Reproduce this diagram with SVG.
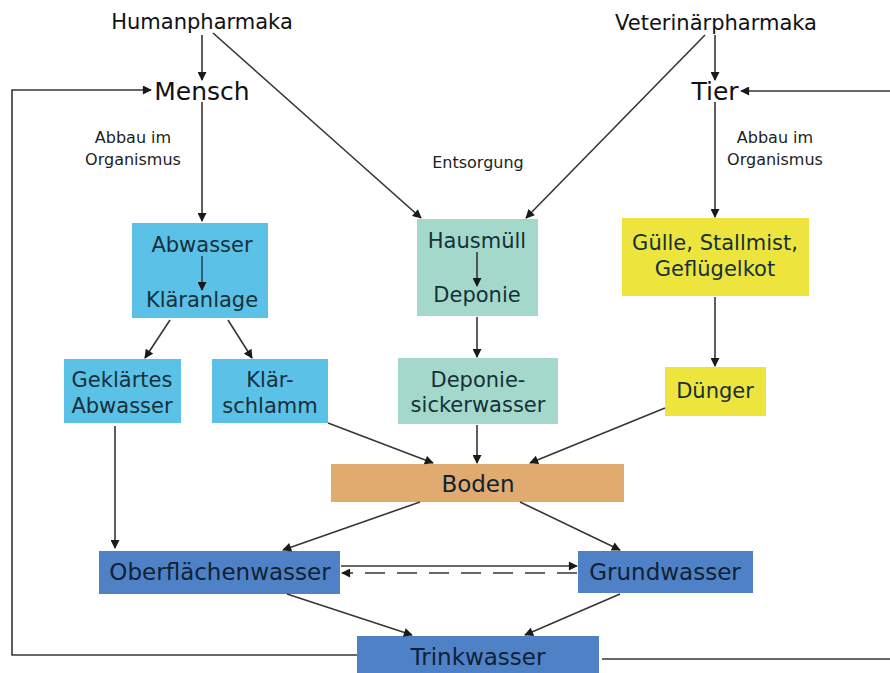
<svg xmlns="http://www.w3.org/2000/svg" width="890" height="673" viewBox="0 0 890 673">
<style>
text{font-family:"DejaVu Sans","Liberation Sans",sans-serif;text-anchor:middle;fill:#111}
.t{font-size:21px}
.big{font-size:25px}
.lab{font-size:16px;fill:#222}
.bx{font-size:21px;fill:#15303a}
.bb{font-size:23px;fill:#0f2233}
.c line,.c path{stroke:#3a3434;stroke-width:1.6;fill:none}
.blue1{fill:#5CC1E7}
.teal{fill:#A3D8CB}
.yel{fill:#EDE53D}
.boden{fill:#E0AB6E}
.blue2{fill:#4F81C7}
</style>
<defs>
<marker id="ah" viewBox="0 0 10 10" refX="9" refY="5" markerWidth="11" markerHeight="9" markerUnits="userSpaceOnUse" orient="auto">
<path d="M0,0 L10,5 L0,10 Z" fill="#1a1a1a"/>
</marker>
</defs>
<rect width="890" height="673" fill="#fff"/>

<g id="humanpharmaka"><text class="t" x="202" y="29">Humanpharmaka</text></g>
<g id="veterinaerpharmaka"><text class="t" x="716" y="30">Veterinärpharmaka</text></g>
<g id="mensch"><text class="big" x="202" y="100">Mensch</text></g>
<g id="tier"><text class="big" x="715" y="100">Tier</text></g>
<g id="label-abbau-links"><text class="lab" x="133" y="143">Abbau im</text><text class="lab" x="133" y="165">Organismus</text></g>
<g id="label-entsorgung"><text class="lab" x="478" y="168">Entsorgung</text></g>
<g id="label-abbau-rechts"><text class="lab" x="775" y="143">Abbau im</text><text class="lab" x="775" y="165">Organismus</text></g>

<g id="abwasser">
<rect class="blue1" x="132" y="223" width="136" height="95"/>
<text class="bx" x="202" y="252">Abwasser</text>
<text class="bx" x="202" y="307">Kläranlage</text>
</g>
<g id="geklaertes-abwasser">
<rect class="blue1" x="64" y="359" width="117" height="64"/>
<text class="bx" x="122" y="387">Geklärtes</text>
<text class="bx" x="122" y="413">Abwasser</text>
</g>
<g id="klaerschlamm">
<rect class="blue1" x="212" y="359" width="116" height="64"/>
<text class="bx" x="270" y="387">Klär-</text>
<text class="bx" x="270" y="413">schlamm</text>
</g>
<g id="hausmuell">
<rect class="teal" x="417" y="219" width="121" height="97"/>
<text class="bx" x="477" y="248">Hausmüll</text>
<text class="bx" x="477" y="302">Deponie</text>
</g>
<g id="deponiesickerwasser">
<rect class="teal" x="398" y="358" width="160" height="66"/>
<text class="bx" x="478" y="387">Deponie-</text>
<text class="bx" x="478" y="412">sickerwasser</text>
</g>
<g id="guelle">
<rect class="yel" x="622" y="218" width="187" height="78"/>
<text class="bx" x="715" y="250">Gülle, Stallmist,</text>
<text class="bx" x="715" y="276">Geflügelkot</text>
</g>
<g id="duenger">
<rect class="yel" x="665" y="367" width="101" height="49"/>
<text class="bx" x="715" y="398">Dünger</text>
</g>
<g id="boden">
<rect class="boden" x="331" y="464" width="293" height="38"/>
<text class="bb" x="478" y="492">Boden</text>
</g>
<g id="oberflaechenwasser">
<rect class="blue2" x="99" y="551" width="241" height="43"/>
<text class="bb" x="220" y="580">Oberflächenwasser</text>
</g>
<g id="grundwasser">
<rect class="blue2" x="578" y="551" width="175" height="42"/>
<text class="bb" x="665" y="580">Grundwasser</text>
</g>
<g id="trinkwasser">
<rect class="blue2" x="357" y="636" width="242" height="40"/>
<text class="bb" x="478" y="665">Trinkwasser</text>
</g>

<g id="connectors" class="c">
<line x1="202" y1="35" x2="202" y2="80" marker-end="url(#ah)"/>
<line x1="202" y1="102" x2="202" y2="221" marker-end="url(#ah)"/>
<line x1="213" y1="33" x2="421" y2="218" marker-end="url(#ah)"/>
<line x1="715" y1="35" x2="715" y2="80" marker-end="url(#ah)"/>
<line x1="705" y1="35" x2="526" y2="218" marker-end="url(#ah)"/>
<line x1="715" y1="102" x2="715" y2="217" marker-end="url(#ah)"/>
<path d="M357,655 H12 V90 H151" marker-end="url(#ah)"/>
<path d="M602,659 H890"/>
<path d="M890,91 H741" marker-end="url(#ah)"/>
<line x1="202" y1="256" x2="202" y2="290" marker-end="url(#ah)" style="stroke:#1f4a5a"/>
<line x1="477" y1="252" x2="477" y2="286" marker-end="url(#ah)"/>
<line x1="170" y1="320" x2="145" y2="358" marker-end="url(#ah)"/>
<line x1="228" y1="320" x2="252" y2="358" marker-end="url(#ah)"/>
<line x1="477" y1="317" x2="477" y2="357" marker-end="url(#ah)"/>
<line x1="715" y1="297" x2="715" y2="366" marker-end="url(#ah)"/>
<line x1="328" y1="423" x2="433" y2="463" marker-end="url(#ah)"/>
<line x1="477" y1="425" x2="477" y2="463" marker-end="url(#ah)"/>
<line x1="665" y1="408" x2="530" y2="463" marker-end="url(#ah)"/>
<line x1="115" y1="426" x2="115" y2="548" marker-end="url(#ah)"/>
<line x1="420" y1="502" x2="283" y2="550" marker-end="url(#ah)"/>
<line x1="520" y1="502" x2="620" y2="550" marker-end="url(#ah)"/>
<line x1="341" y1="566" x2="577" y2="566" marker-end="url(#ah)"/>
<line x1="577" y1="573" x2="342" y2="573" marker-end="url(#ah)" stroke-dasharray="20,12"/>
<line x1="287" y1="594" x2="412" y2="635" marker-end="url(#ah)"/>
<line x1="620" y1="594" x2="525" y2="635" marker-end="url(#ah)"/>
</g>
</svg>
